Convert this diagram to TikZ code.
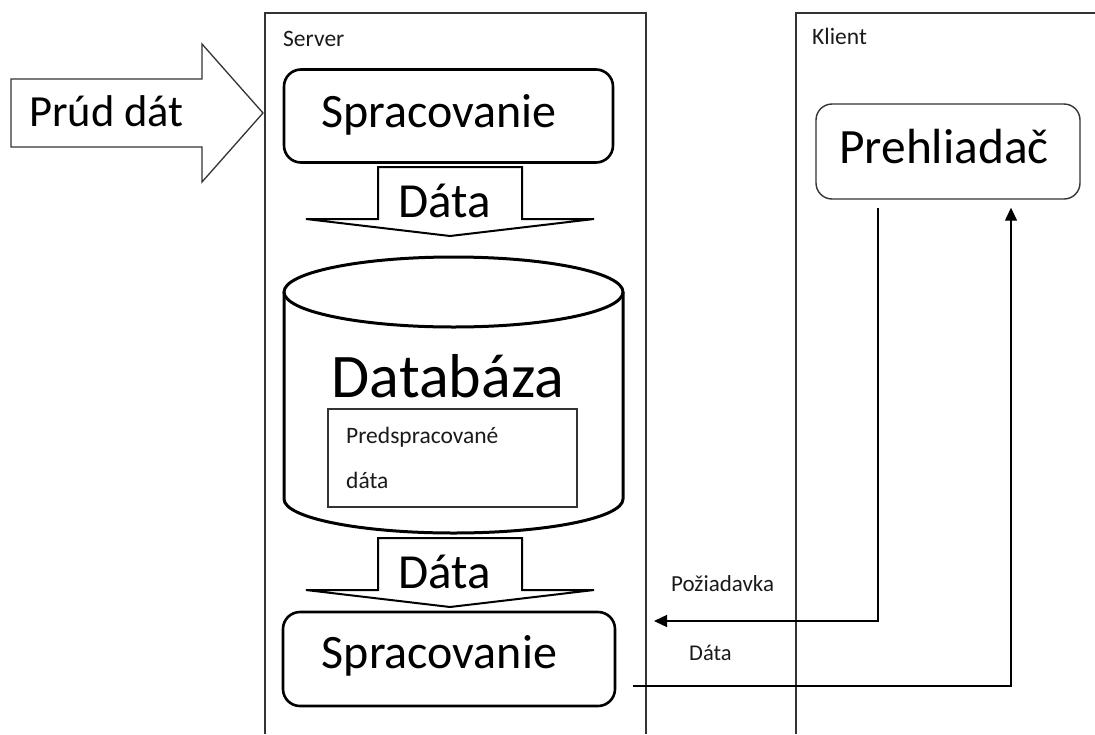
\documentclass[tikz,border=0pt]{standalone}
\usepackage{fontspec}
\setmainfont{Carlito}
\usetikzlibrary{arrows.meta,calc}

\definecolor{ink}{HTML}{1A1A1A}
\definecolor{frame}{HTML}{333333}

\tikzset{
  lane/.style={draw=frame, line width=1.5pt},
  procbox/.style={draw=black, line width=2.6pt, rounded corners=17pt, inner sep=0pt},
  clientbox/.style={draw=frame, line width=1.4pt, rounded corners=16pt, inner sep=0pt},
  blockarrow/.style={draw=black, line width=2pt, fill=white, line join=miter},
  inarrow/.style={draw=frame, line width=1.3pt, fill=white},
  dbshape/.style={draw=black, line width=3pt},
  innerbox/.style={draw=frame, line width=1.3pt, inner sep=0pt},
  link/.style={draw=black, line width=1.4pt, -{Triangle[length=13pt,width=12pt]}},
  big/.style={font=\fontsize{48}{56}\selectfont, text=black, inner sep=0pt, anchor=base},
  small/.style={font=\fontsize{23.5}{28}\selectfont, text=ink, inner sep=0pt},
}

\begin{document}
\begin{tikzpicture}[x=1pt,y=-1pt]
  \useasboundingbox (0,0) rectangle (1095,734);

  % swimlanes
  \draw[lane] (265,734) -- (265,13) -- (646,13) -- (646,734);
  \draw[lane] (796,734) -- (796,13) -- (1095,13);
  \node[small, anchor=base west] (srv) at (283,46) {Server};
  \node[small, anchor=base west] (kli) at (812,44) {Klient};

  % incoming data stream
  \draw[inarrow] (11,79) -- (202,79) -- (202,44) -- (263,113) -- (202,182)
                 -- (202,147) -- (11,147) -- cycle;
  \node[big, font=\fontsize{44.5}{52}\selectfont] (stream) at (106.5,126) {Prúd dát};

  % first processing step
  \node[procbox, minimum width=329pt, minimum height=93pt] (sp1) at (448.5,116) {};
  \node[big] (sp1t) at (439,127) {Spracovanie};

  % data flow into the database
  \draw[blockarrow] (378,167) -- (522,167) -- (522,219) -- (594,219) -- (450,236)
                    -- (306,219) -- (378,219) -- cycle;
  \node[big, font=\fontsize{49}{56}\selectfont] (d1) at (444.5,217) {Dáta};

  % database cylinder
  \fill[white] (284,292) -- (284,499) arc[start angle=180, end angle=360, x radius=169.5, y radius=-34]
               -- (623,292) -- cycle;
  \draw[dbshape] (284,292) -- (284,499) arc[start angle=180, end angle=360, x radius=169.5, y radius=-34]
                 -- (623,292);
  \draw[dbshape] (453.5,292) ellipse[x radius=169.5, y radius=35];
  \node[big, font=\fontsize{62}{70}\selectfont] (db) at (448,397) {Databáza};

  \node[innerbox, minimum width=249pt, minimum height=98pt] (pre) at (452.5,458) {};
  \node[small, anchor=base west] (pret1) at (346,443) {Predspracované};
  \node[small, anchor=base west] (pret2) at (346,488) {dáta};

  % data flow out of the database
  \draw[blockarrow] (378,538) -- (522,538) -- (522,590) -- (594,590) -- (450,607)
                    -- (306,590) -- (378,590) -- cycle;
  \node[big, font=\fontsize{49}{56}\selectfont] (d2) at (444.5,588) {Dáta};

  % second processing step
  \node[procbox, minimum width=332pt, minimum height=94pt] (sp2) at (449,659) {};
  \node[big] (sp2t) at (439.5,668) {Spracovanie};

  % client browser
  \node[clientbox, minimum width=264pt, minimum height=95pt] (br) at (948,151.5) {};
  \node[big, font=\fontsize{49.4}{56}\selectfont] (brt) at (944,163) {Prehliadač};

  % request / response connectors
  \coordinate (reqStart) at ($(br.south)+(-70,8)$);
  \coordinate (reqEnd) at (654,621);
  \coordinate (resStart) at ($(sp2.east)+(17,27)$);
  \coordinate (resEnd) at ($(br.south)+(63,8)$);
  \draw[link] (reqStart) |- (reqEnd);
  \draw[link] (resStart) -| (resEnd);
  \node[small, font=\fontsize{23}{28}\selectfont, anchor=base west] (reqL) at (671,591) {Požiadavka};
  \node[small, font=\fontsize{22.5}{28}\selectfont, anchor=base west] (resL) at (689,660) {Dáta};
\end{tikzpicture}
\end{document}
